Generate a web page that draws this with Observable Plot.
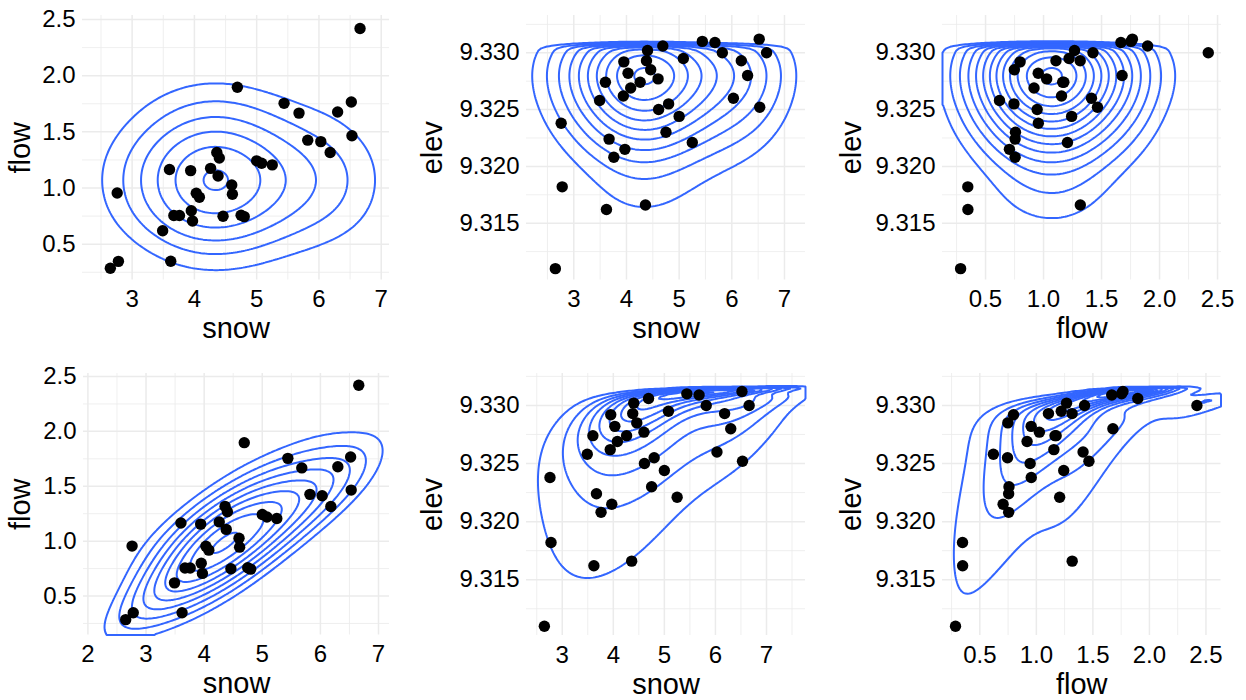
<!DOCTYPE html>
<html><head><meta charset="utf-8">
<script src="https://cdn.jsdelivr.net/npm/d3@7"></script>
<script src="https://cdn.jsdelivr.net/npm/@observablehq/plot@0.6"></script>
<style>
html,body{margin:0;padding:0;background:#fff;}
#chart{position:relative;width:1246px;height:700px;overflow:hidden;font-family:"Liberation Sans",Arial,Helvetica,sans-serif;}
#chart > div{position:absolute;}
</style></head><body><div id="chart"></div>
<script>
// ---- data (one value per observation) ----
const snow = [2.65,2.76,2.78,3.49,3.60,3.62,3.67,3.76,3.94,3.95,3.97,4.03,4.08,4.26,4.36,4.38,4.40,4.46,4.60,4.61,4.69,4.75,4.80,5.00,5.08,5.25,5.44,5.68,5.82,6.03,6.18,6.30,6.52,6.53,6.66];
const flow = [0.285,0.955,0.347,0.62,1.165,0.348,0.755,0.755,1.155,0.798,0.706,0.954,0.918,1.175,1.317,1.107,1.267,0.748,1.027,0.945,1.897,0.758,0.745,1.242,1.22,1.206,1.754,1.667,1.426,1.413,1.316,1.677,1.766,1.465,2.42];
const elev = [9.3110,9.3238,9.3182,9.3258,9.3274,9.3162,9.3224,9.3208,9.3262,9.3292,9.3215,9.3282,9.3269,9.3274,9.3166,9.3293,9.3302,9.3285,9.3277,9.3250,9.3306,9.3230,9.3255,9.3244,9.3295,9.3221,9.3310,9.3309,9.3300,9.3260,9.3293,9.3280,9.3312,9.3252,9.3300];

// ---- axis ticks ----
const snowTicks = [2,3,4,5,6,7];
const snowMinor = [2.5,3.5,4.5,5.5,6.5,7.5];
const flowTicks = [0.5,1.0,1.5,2.0,2.5];
const flowMinor = [0.25,0.75,1.25,1.75,2.25,2.75];
const elevTicks = [9.315,9.320,9.325,9.330];
const elevMinor = [9.3125,9.3175,9.3225,9.3275,9.3325];

// ---- density estimates ----
const n = snow.length;
const SQ2PI = Math.sqrt(2*Math.PI);
function erf(x){ const s = Math.sign(x); x = Math.abs(x); const t = 1/(1+0.3275911*x);
  const y = 1 - (((((1.061405429*t - 1.453152027)*t) + 1.421413741)*t - 0.284496736)*t + 0.254829592)*t*Math.exp(-x*x); return s*y; }
const Phi = z => 0.5*(1 + erf(z/Math.SQRT2));
function kde1(v, h){
  return x => { let s = 0; for (let i = 0; i < v.length; i++){ const z = (x - v[i]) / h; s += Math.exp(-0.5*z*z); } return s / (v.length*h*SQ2PI); };
}
function kde2(a, b, hf){
  const ma = d3.mean(a), mb = d3.mean(b);
  let saa = 0, sbb = 0, sab = 0;
  for (let i = 0; i < a.length; i++){ saa += (a[i]-ma)**2; sbb += (b[i]-mb)**2; sab += (a[i]-ma)*(b[i]-mb); }
  const k = hf*hf/(a.length-1);
  const h11 = saa*k, h22 = sbb*k, h12 = sab*k;
  const det = h11*h22 - h12*h12;
  const i11 = h22/det, i22 = h11/det, i12 = -h12/det;
  const norm = 1/(a.length*2*Math.PI*Math.sqrt(det));
  return (x, y) => { let s = 0; for (let i = 0; i < a.length; i++){ const dx = x - a[i], dy = y - b[i]; s += Math.exp(-0.5*(i11*dx*dx + 2*i12*dx*dy + i22*dy*dy)); } return s*norm; };
}
// margins (independent model): elev has an upper cut-off
const cutE = e => Phi((9.3308 - e) / 0.00025);
const fSnow = kde1(snow, 0.75), fFlow = kde1(flow, 0.28), fElev0 = kde1(elev, 0.0026);
const fElev = e => fElev0(e) * cutE(e);
// joint model: elev on a log scale below its bound
const B = 9.3318;
const uElev = elev.map(e => Math.log(B - e));
const jSF = kde2(snow, flow, 0.8);
const jSU = kde2(snow, uElev, 0.6);
const jFU = kde2(flow, uElev, 0.55);
const jE = (g, x, e) => e >= B ? 0 : g(x, Math.log(B - e)) / (B - e);

const panels = [
  {xs: snow, ys: flow, xl: "snow", yl: "flow", xd: [2.203, 7.133], yd: [0.181, 2.536], xt: snowTicks, xm: snowMinor, yt: flowTicks, ym: flowMinor, xf: d3.format("d"), yf: d3.format(".1f"),
   f: (x, y) => fSnow(x)*fFlow(y), m: 6, a: 0.28, b: 0.985, rect: [82, 15, 307, 264.5], ylo: 62},
  {xs: snow, ys: elev, xl: "snow", yl: "elev", xd: [2.102, 7.399], yd: [9.3100, 9.33328], xt: snowTicks, xm: snowMinor, yt: elevTicks, ym: elevMinor, xf: d3.format("d"), yf: d3.format(".3f"),
   f: (x, y) => fSnow(x)*fElev(y), m: 10, a: 0.18, b: 0.985, rect: [526, 15, 279, 264.5], ylo: 94},
  {xs: flow, ys: elev, xl: "flow", yl: "elev", xd: [0.129, 2.534], yd: [9.3100, 9.33328], xt: flowTicks, xm: flowMinor, yt: elevTicks, ym: elevMinor, xf: d3.format(".1f"), yf: d3.format(".3f"),
   f: (x, y) => fFlow(x)*fElev(y), m: 13, a: 0.15, b: 0.985, rect: [941.7, 15, 279, 264.5], ylo: 91},
  {xs: snow, ys: flow, xl: "snow", yl: "flow", xd: [1.924, 7.189], yd: [0.145, 2.527], xt: snowTicks, xm: snowMinor, yt: flowTicks, ym: flowMinor, xf: d3.format("d"), yf: d3.format(".1f"),
   f: (x, y) => jSF(x, y), m: 9, a: 0.25, b: 0.985, rect: [83.3, 372.5, 306, 261.5], ylo: 63},
  {xs: snow, ys: elev, xl: "snow", yl: "elev", xd: [2.30, 7.764], yd: [9.3102, 9.33275], xt: snowTicks, xm: snowMinor, yt: elevTicks, ym: elevMinor, xf: d3.format("d"), yf: d3.format(".3f"),
   f: (x, y) => jE(jSU, x, y), m: 10, a: 0.07, b: 0.97, rect: [526, 373, 279, 262], ylo: 94},
  {xs: flow, ys: elev, xl: "flow", yl: "elev", xd: [0.170, 2.633], yd: [9.3102, 9.33275], xt: flowTicks, xm: flowMinor, yt: elevTicks, ym: elevMinor, xf: d3.format(".1f"), yf: d3.format(".3f"),
   f: (x, y) => jE(jFU, x, y), m: 12, a: 0.05, b: 0.975, rect: [941.7, 373, 278.5, 262], ylo: 91}
];

const ML = 110, MR = 20, MT = 10, MB = 75;
const grid = "#ebebeb";
const chart = document.getElementById("chart");
for (const p of panels){
  const inD = (d, v) => v >= Math.min(...d) && v <= Math.max(...d);
  const xt = p.xt.filter(v => inD(p.xd, v)), xm = p.xm.filter(v => inD(p.xd, v));
  const yt = p.yt.filter(v => inD(p.yd, v)), ym = p.ym.filter(v => inD(p.yd, v));
  // max density over the panel, for contour levels
  let mx = 0;
  for (let i = 0; i <= 180; i++) for (let j = 0; j <= 180; j++){
    const x = p.xd[0] + (p.xd[1]-p.xd[0])*i/180, y = p.yd[0] + (p.yd[1]-p.yd[0])*j/180;
    const v = p.f(x, y); if (v > mx) mx = v;
  }
  const thr = d3.range(p.m).map(k => mx*(p.a + (p.b - p.a)*k/(p.m - 1)));
  const data = d3.range(n).map(i => ({x: p.xs[i], y: p.ys[i]}));
  const [L, T, W, H] = p.rect;
  const svg = Plot.plot({
    width: W + ML + MR, height: H + MT + MB,
    marginLeft: ML, marginRight: MR, marginTop: MT, marginBottom: MB,
    style: {background: "transparent", overflow: "visible", fontFamily: "'Liberation Sans', Arial, Helvetica, sans-serif", color: "black"},
    x: {domain: p.xd}, y: {domain: p.yd},
    marks: [
      Plot.gridX(xm, {stroke: grid, strokeOpacity: 1, strokeWidth: 0.8}),
      Plot.gridY(ym, {stroke: grid, strokeOpacity: 1, strokeWidth: 0.8}),
      Plot.gridX(xt, {stroke: grid, strokeOpacity: 1, strokeWidth: 1.5}),
      Plot.gridY(yt, {stroke: grid, strokeOpacity: 1, strokeWidth: 1.5}),
      Plot.axisX(xt, {tickSize: 0, tickPadding: 10, fontSize: 24, tickFormat: p.xf, label: null, color: "black"}),
      Plot.axisY(yt, {tickSize: 0, tickPadding: 7, fontSize: 24, tickFormat: p.yf, label: null, color: "black"}),
      Plot.contour({value: p.f, x1: p.xd[0], x2: p.xd[1], y1: p.yd[0], y2: p.yd[1], thresholds: thr, stroke: "#3366FF", strokeWidth: 2, fill: "none"}),
      Plot.dot(data, {x: "x", y: "y", r: 5.7, fill: "black"}),
      Plot.text([p.xl], {text: d => d, frameAnchor: "bottom", dy: 49, lineAnchor: "middle", textAnchor: "middle", fontSize: 29, fill: "black"}),
      Plot.text([p.yl], {text: d => d, frameAnchor: "left", dx: -p.ylo, rotate: -90, lineAnchor: "middle", textAnchor: "middle", fontSize: 29, fill: "black"})
    ]
  });
  const div = document.createElement("div");
  div.style.left = (L - ML) + "px";
  div.style.top = (T - MT) + "px";
  div.appendChild(svg);
  chart.appendChild(div);
}
</script></body></html>
